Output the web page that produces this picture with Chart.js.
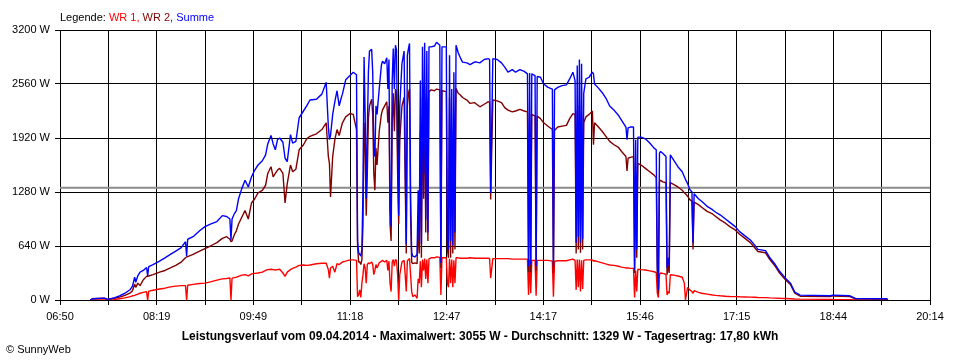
<!DOCTYPE html>
<html>
<head>
<meta charset="utf-8">
<script src="https://cdn.jsdelivr.net/npm/chart.js@4.4.1/dist/chart.umd.min.js"></script>
<style>
html,body{margin:0;padding:0;background:#fff;}
#wrap{position:relative;width:960px;height:360px;overflow:hidden;background:#fff;font-family:"Liberation Sans",Arial,sans-serif;color:#000;}
#c{position:absolute;left:0;top:0;}
.legend{position:absolute;left:60px;top:10px;font-size:11px;line-height:14px;white-space:nowrap;}
.title{position:absolute;left:0;width:960px;top:329px;text-align:center;font-size:12px;line-height:14px;font-weight:bold;white-space:nowrap;}
.copy{position:absolute;left:6px;top:342px;font-size:11px;line-height:14px;white-space:nowrap;}
</style>
</head>
<body>
<div id="wrap">
<canvas id="c" width="960" height="360"></canvas>
<div class="legend">Legende: <span style="color:#ff0000">WR 1,</span> <span style="color:#800000">WR 2,</span> <span style="color:#0000ff">Summe</span></div>
<div class="title">Leistungsverlauf vom 09.04.2014 - Maximalwert: 3055 W - Durchschnitt: 1329 W - Tagesertrag: 17,80 kWh</div>
<div class="copy">© SunnyWeb</div>
</div>
<script>
// ---- data ----
const xStart = "06:50";
const xEnd = "20:14";
const xTickLabels = ["06:50","08:19","09:49","11:18","12:47","14:17","15:46","17:15","18:44","20:14"];
const yTickValues = [0, 640, 1280, 1920, 2560, 3200];
const durchschnitt = 1329;

const times = [
"07:18","07:20","07:31","07:34","07:40","07:45","07:50","07:55","07:57","07:59",
"08:00","08:02","08:04","08:07","08:10","08:11","08:12","08:16","08:22","08:27",
"08:32","08:37","08:42","08:46","08:47","08:48","08:53","08:59","09:04","09:09",
"09:15","09:20","09:24","09:27","09:28","09:29","09:31","09:33","09:35","09:38",
"09:41","09:44","09:47","09:50","09:53","09:57",
"10:00","10:02","10:05","10:07","10:09","10:11","10:13","10:16","10:18","10:20",
"10:23","10:25","10:28","10:31","10:35","10:38","10:41","10:47","10:52","10:56",
"10:58","10:59","11:00","11:02","11:04","11:06","11:08","11:10","11:11","11:14",
"11:18","11:21","11:24",
"11:25","11:26","11:27","11:28","11:29","11:30","11:31","11:32","11:33","11:34",
"11:35","11:36","11:38","11:39","11:40","11:41","11:42","11:43","11:45","11:47",
"11:48","11:50","11:52","11:53","11:54","11:55","11:56","11:57","11:58","11:59",
"12:00","12:01","12:02","12:03","12:04","12:06","12:08","12:09","12:10","12:11",
"12:12","12:13","12:14","12:15","12:16","12:18","12:20","12:21","12:22","12:23",
"12:24","12:25","12:26","12:27","12:28","12:29","12:30","12:31","12:33","12:36",
"12:38","12:41","12:42","12:43","12:47","12:48","12:49","12:50","12:51","12:52",
"12:53","12:54","12:55","12:56","12:58","13:00",
"13:02","13:06","13:09","13:13","13:15","13:18","13:22","13:26","13:27","13:28",
"13:30","13:34","13:38","13:41","13:44","13:48","13:51","13:55","13:59","14:02",
"14:03","14:04","14:05","14:06","14:09","14:10","14:11","14:14","14:17","14:21",
"14:25","14:26","14:27","14:30","14:34","14:38","14:41","14:44","14:46","14:47",
"14:48","14:49","14:50","14:51","14:52","14:53","14:54","14:56","14:59","15:02",
"15:03","15:04","15:07","15:11","15:15","15:18","15:22","15:26","15:29","15:33",
"15:34","15:35","15:37","15:40","15:41","15:42","15:43","15:44","15:47","15:51",
"15:55","15:59","16:01","16:02","16:03","16:04","16:05","16:07","16:10","16:11",
"16:12","16:13","16:14","16:17","16:21","16:25","16:27","16:28","16:30","16:32",
"16:34","16:35","16:36","16:40","16:43","16:48","16:53","16:56","17:00","17:05",
"17:09","17:14","17:18","17:23","17:28","17:32","17:35","17:42","17:46","17:51",
"17:55","18:00","18:05","18:09","18:14","18:42","18:44","19:00","19:05","19:34",
"19:35"
];

const wr1 = [
0,0,0,0,5,15,25,40,50,55,
60,70,80,90,100,0,105,115,130,140,
155,165,170,170,0,175,185,195,200,215,
235,250,255,260,0,260,265,270,280,295,
300,285,310,315,320,330,
350,360,365,360,355,360,365,320,280,330,
360,375,390,410,415,410,415,430,435,435,
360,260,380,400,330,430,420,440,450,460,
475,475,470,
40,60,120,30,200,300,430,380,200,420,
440,430,450,420,300,350,420,380,440,460,
470,450,470,350,460,200,100,450,480,400,
480,470,300,0,300,450,470,300,100,460,
480,490,300,100,40,60,20,250,200,460,
150,480,350,490,250,480,200,490,500,500,
510,505,60,500,500,200,150,490,200,480,
150,470,200,500,500,495,
495,495,500,495,495,495,495,495,490,260,
490,490,490,490,490,485,485,485,485,485,
60,480,80,470,470,50,470,470,470,470,
460,40,460,465,465,465,475,485,470,120,
480,150,480,100,470,130,470,475,475,475,
460,465,455,440,425,415,410,400,390,380,
380,380,375,375,30,350,100,365,360,355,
345,335,325,80,30,300,320,315,305,60,
100,80,300,295,285,270,200,0,150,120,
100,80,110,90,80,70,60,55,50,45,
42,40,38,36,34,32,30,28,25,22,
20,18,15,12,10,8,6,5,0,0,
0
];

const wr2 = [
0,15,22,8,20,35,55,85,110,190,
150,200,170,240,280,280,285,300,330,350,
380,410,450,500,510,515,540,580,610,640,
680,730,750,720,690,700,770,820,900,980,
1060,960,1150,1200,1270,1300,
1360,1500,1580,1460,1500,1540,1560,1500,1150,1380,
1600,1520,1550,1780,1840,1910,1940,1970,2020,2100,
1700,1620,1220,1700,1900,2020,1950,2050,2100,2170,
2210,2200,2020,
630,450,450,420,480,900,2100,1800,1000,1500,
2150,2300,2380,2200,1500,1300,1800,1600,2000,2200,
2250,2300,2350,2100,2300,900,700,2100,2450,2000,
2500,2450,1500,900,1900,2300,2400,1400,550,2300,
2450,2500,1000,450,430,440,430,900,550,2000,
500,2400,1200,2450,800,2400,700,2470,2490,2480,
2500,2490,380,2480,2470,600,500,2400,500,2000,
550,2100,600,2510,2450,2430,
2400,2370,2330,2340,2320,2290,2320,2350,2340,1190,
2370,2360,2340,2280,2250,2230,2240,2260,2240,2230,
330,2200,330,2200,2180,340,2180,2150,2100,2060,
2020,320,2010,2050,2060,2070,2150,2210,2200,550,
2250,600,2300,560,2200,600,2100,2170,2200,2240,
1840,2100,2060,2000,1930,1880,1840,1810,1760,1700,
1530,1680,1690,1700,320,1500,500,1620,1600,1560,
1520,1480,1450,320,80,1400,1420,1400,1390,300,
420,320,1390,1370,1340,1300,1270,1260,1230,1190,
1170,600,1160,1130,1100,1050,1020,990,950,910,
870,830,780,730,680,620,575,560,480,400,
320,245,185,80,45,40,48,40,15,12,
0
];

const summe = [
0,15,22,8,25,50,80,125,165,270,
210,290,330,350,385,285,395,420,460,500,
540,580,620,690,520,720,750,820,870,900,
930,1000,990,960,710,960,1020,1060,1200,1320,
1420,1340,1460,1540,1600,1650,
1720,1850,1950,1850,1780,1900,1920,1870,1680,1640,
1960,1860,1880,2160,2240,2300,2370,2380,2440,2580,
2050,1900,1950,2200,2350,2480,2300,2400,2440,2610,
2660,2700,2670,
700,560,540,520,600,1300,2880,2200,1200,2000,
2700,2950,2970,2700,1800,1700,2300,2200,2500,2780,
2830,2800,2870,2500,2850,1100,870,2600,2980,2500,
3020,2960,1800,1000,2300,2800,2950,1700,660,2900,
2980,3040,1200,560,520,510,540,1300,700,2600,
660,3000,1500,3050,950,2950,800,3000,3000,3010,
3055,3020,440,3000,3000,700,600,2900,700,2500,
650,2700,800,3020,2930,2870,
2820,2810,2790,2820,2820,2810,2850,2860,2850,1270,
2860,2850,2810,2760,2700,2730,2700,2730,2710,2680,
400,2690,420,2680,2660,400,2650,2640,2560,2520,
2500,400,2490,2520,2540,2550,2620,2700,2600,680,
2780,750,2850,675,2800,720,2450,2620,2640,2700,
2680,2560,2520,2460,2380,2300,2250,2190,2130,2050,
1900,2040,2050,2050,360,1900,600,1930,1930,1910,
1860,1800,1780,400,120,1740,1760,1740,1700,380,
500,400,1720,1660,1580,1520,1460,1430,1380,1310,
1280,675,1260,1200,1170,1110,1070,1040,1010,960,
920,870,810,760,711,650,600,585,500,420,
340,265,200,95,58,50,58,50,18,15,
0
];

// ---- build ----
const toMin = s => { const p = s.split(':'); return (+p[0]) * 60 + (+p[1]); };
const xMin = toMin(xStart), xMax = toMin(xEnd);
const gridDivisions = (xTickLabels.length - 1) * 2;
const pts = arr => times.map((t, i) => ({ x: toMin(t), y: arr[i] }));

Chart.defaults.font.family = "'Liberation Sans', Arial, sans-serif";
Chart.defaults.font.size = 11;
Chart.defaults.color = '#000';

const lineStyle = { pointRadius: 0, borderWidth: 1.4, tension: 0, borderJoinStyle: 'bevel', fill: false };

new Chart(document.getElementById('c'), {
  type: 'line',
  data: {
    datasets: [
      Object.assign({ label: 'Durchschnitt', data: [{x: xMin, y: durchschnitt}, {x: xMax, y: durchschnitt}], borderColor: '#8c8c8c', order: 4 }, lineStyle, { borderWidth: 2 }),
      Object.assign({ label: 'WR 1', data: pts(wr1), borderColor: '#ff0000', order: 3 }, lineStyle),
      Object.assign({ label: 'WR 2', data: pts(wr2), borderColor: '#800000', order: 2 }, lineStyle),
      Object.assign({ label: 'Summe', data: pts(summe), borderColor: '#0000ff', order: 1 }, lineStyle)
    ]
  },
  options: {
    responsive: false,
    animation: false,
    devicePixelRatio: 1,
    layout: { padding: { left: 0, right: 30, top: 30, bottom: 0 } },
    plugins: { legend: { display: false }, tooltip: { enabled: false }, title: { display: false } },
    scales: {
      x: {
        type: 'linear', min: xMin, max: xMax,
        afterBuildTicks: s => {
          const t = [];
          for (let k = 0; k <= gridDivisions; k++) t.push({ value: xMin + k * (xMax - xMin) / gridDivisions });
          s.ticks = t;
        },
        afterFit: s => { s.height = 60; },
        ticks: { autoSkip: false, maxRotation: 0, padding: 5, color: '#000',
          callback: (v, i) => (i % 2 === 0 ? xTickLabels[i / 2] : '') },
        grid: { color: '#000', lineWidth: 1, tickLength: 5, drawTicks: true },
        border: { color: '#000', width: 1 }
      },
      y: {
        min: 0, max: 3200,
        afterBuildTicks: s => { s.ticks = yTickValues.map(v => ({ value: v })); },
        afterFit: s => { s.width = 60; },
        ticks: { padding: 5, color: '#000', callback: v => v + ' W' },
        grid: { color: '#000', lineWidth: 1, tickLength: 5, drawTicks: true },
        border: { color: '#000', width: 1 }
      }
    }
  }
});
</script>
</body>
</html>
